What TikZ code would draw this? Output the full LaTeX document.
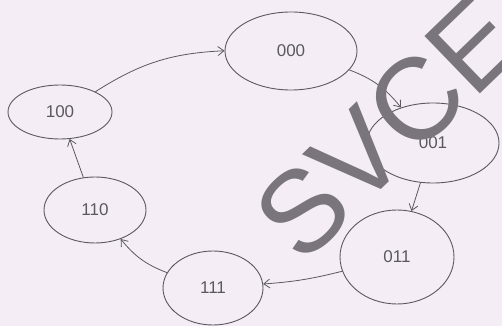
\documentclass[tikz,border=0pt]{standalone}
\usepackage{fontspec}
\setmainfont{Liberation Sans}
\usetikzlibrary{arrows.meta, shapes.geometric}
\definecolor{paper}{RGB}{244,237,245}
\definecolor{pencil}{RGB}{92,88,96}
\definecolor{stamp}{RGB}{122,116,124}

\begin{document}
\begin{tikzpicture}[x=1pt, y=1pt,
    state/.style={draw=pencil, ellipse, line width=0.9pt, inner sep=0pt,
        font=\fontsize{17}{17}\selectfont, text=pencil},
    trans/.style={draw=pencil, line width=0.8pt,
        -{Straight Barb[length=6pt, width=9pt]}}]
    % Paper
    \fill[paper] (0,0) rectangle (502,326);
    \useasboundingbox (0,0) rectangle (502,326);
    \clip (0,0) rectangle (502,326);

    % States
    \node[state, minimum width=132pt, minimum height=78pt] (s000) at (291,275) {000};
    \node[state, minimum width=132pt, minimum height=80pt] (s001) at (433,183) {001};
    \node[state, minimum width=114pt, minimum height=94pt] (s011) at (397,69) {011};
    \node[state, minimum width=100pt, minimum height=74pt] (s111) at (213,38) {111};
    \node[state, minimum width=102pt, minimum height=66pt] (s110) at (95,116) {110};
    \node[state, minimum width=104pt, minimum height=54pt] (s100) at (60,214) {100};

    % Transitions
    \draw[trans] (s000) to[bend left=15] (s001);
    \draw[trans] (s001) -- (s011);
    \draw[trans] (s011) to[bend left=5] (s111);
    \draw[trans] (s111) to[bend left=15] (s110);
    \draw[trans] (s110) -- (s100);
    \draw[trans] (s100) to[bend left=15] (s000);

    % Watermark
    \node[text=stamp, rotate=44, font=\fontsize{116}{116}\selectfont] (mark) at (388,198) {SVCE};
\end{tikzpicture}
\end{document}
